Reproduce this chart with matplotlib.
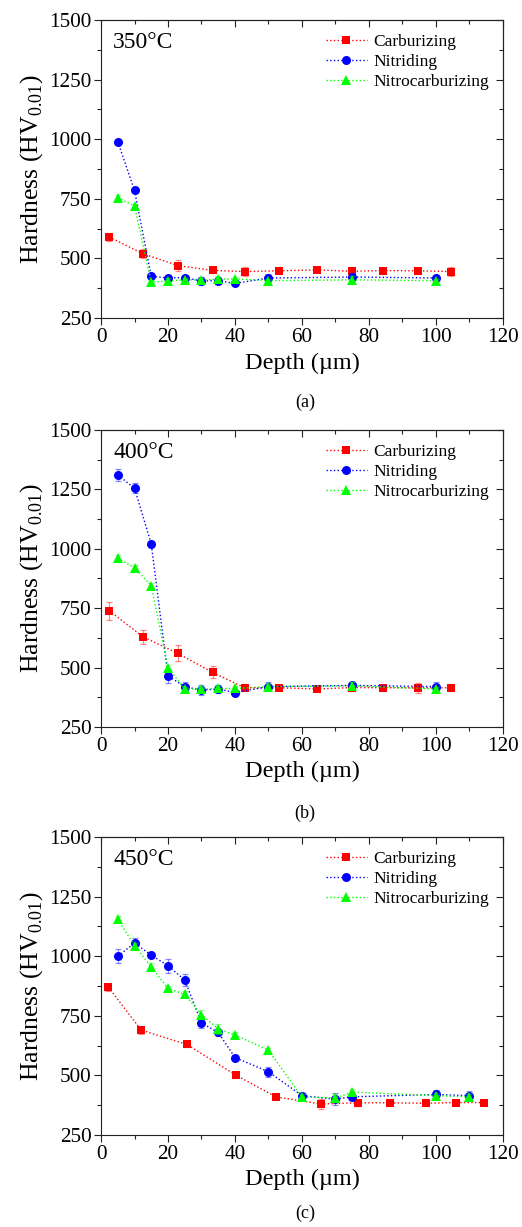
import numpy as np
import matplotlib
matplotlib.use('Agg')
import matplotlib.pyplot as plt
from matplotlib.ticker import MultipleLocator

# フォント設定
plt.rcParams['font.family'] = ['Liberation Serif', 'DejaVu Serif']
plt.rcParams['mathtext.fontset'] = 'custom'
plt.rcParams['mathtext.rm'] = 'Liberation Serif'

# 350°C のデータ
c350_x = [2.4, 12.5, 22.9, 33.3, 42.9, 53.2, 64.6, 74.9, 84.3, 94.7, 104.4]
c350_y = [590, 520, 470, 450, 445, 448, 452, 446, 449, 448, 445]
c350_e = [15, 18, 22, 12, 18, 8, 8, 8, 8, 8, 18]
n350_x = [5, 10, 15, 20, 25, 30, 35, 40, 50, 75, 100]
n350_y = [990, 785, 425, 418, 420, 405, 407, 395, 418, 422, 418]
n350_e = [8, 8, 8, 8, 10, 18, 15, 8, 15, 15, 12]
nc350_x = [5, 10, 15, 20, 25, 30, 35, 40, 50, 75, 100]
nc350_y = [755, 720, 400, 406, 410, 410, 413, 414, 407, 410, 407]
nc350_e = [12, 10, 10, 10, 8, 10, 12, 10, 8, 15, 8]

# 400°C のデータ
c400_x = [2.4, 12.5, 22.9, 33.3, 42.9, 53.2, 64.6, 74.9, 84.3, 94.7, 104.4]
c400_y = [740, 630, 560, 480, 415, 415, 410, 416, 415, 415, 415]
c400_e = [38, 30, 33, 25, 15, 10, 8, 15, 8, 20, 8]
n400_x = [5, 10, 15, 20, 25, 30, 35, 40, 50, 75, 100]
n400_y = [1310, 1255, 1020, 465, 420, 405, 410, 395, 420, 425, 420]
n400_e = [25, 20, 12, 30, 20, 20, 15, 8, 20, 15, 20]
nc400_x = [5, 10, 15, 20, 25, 30, 35, 40, 50, 75, 100]
nc400_y = [960, 920, 845, 500, 410, 410, 412, 412, 420, 423, 410]
nc400_e = [12, 12, 10, 10, 10, 10, 12, 10, 12, 15, 10]

# 450°C のデータ
c450_x = [2.2, 12.0, 25.6, 40.4, 52.2, 65.7, 76.7, 86.3, 96.9, 106.1, 114.3]
c450_y = [870, 690, 630, 500, 410, 380, 385, 385, 383, 386, 386]
c450_e = [15, 15, 10, 10, 10, 20, 12, 10, 8, 8, 8]
n450_x = [5, 10, 15, 20, 25, 30, 35, 40, 50, 60, 70, 75, 100, 110]
n450_y = [1000, 1055, 1005, 960, 900, 720, 680, 575, 515, 415, 400, 410, 420, 415]
n450_e = [30, 20, 10, 30, 25, 20, 15, 10, 20, 10, 25, 15, 20, 20]
nc450_x = [5, 10, 15, 20, 25, 30, 35, 40, 50, 60, 70, 75, 100, 110]
nc450_y = [1155, 1045, 955, 865, 840, 755, 695, 670, 605, 410, 405, 430, 415, 410]
nc450_e = [12, 12, 15, 12, 12, 20, 20, 10, 10, 10, 15, 12, 10, 10]

temps = ['350°C', '400°C', '450°C']
tags = ['(a)', '(b)', '(c)']
panels = [
    [(c350_x, c350_y, c350_e), (n350_x, n350_y, n350_e), (nc350_x, nc350_y, nc350_e)],
    [(c400_x, c400_y, c400_e), (n400_x, n400_y, n400_e), (nc400_x, nc400_y, nc400_e)],
    [(c450_x, c450_y, c450_e), (n450_x, n450_y, n450_e), (nc450_x, nc450_y, nc450_e)],
]
names = ['Carburizing', 'Nitriding', 'Nitrocarburizing']
colors = ['#ff0000', '#0000ff', '#00ff00']
markers = ['s', 'o', '^']
msizes = [5.8, 6.5, 7]

fig = plt.figure(figsize=(5.22, 12.27), dpi=100)

# 各パネルの位置 [left, bottom, width, height]
rects = [[0.1935, 0.7408, 0.770, 0.2429],
         [0.1935, 0.4075, 0.770, 0.2421],
         [0.1935, 0.0750, 0.770, 0.2428]]
tag_y = [0.665, 0.330, 0.004]
axcol = '#222222'

for k in range(3):
    ax = fig.add_axes(rects[k])
    for (x, y, e), nm, col, mk, ms in zip(panels[k], names, colors, markers, msizes):
        ax.errorbar(x, y, yerr=e, fmt='none', ecolor=col, alpha=0.45,
                    elinewidth=0.9, capsize=2.5, capthick=0.9)
        ax.plot(x, y, linestyle=':', color=col, lw=1.0, marker=mk,
                markersize=ms, markeredgewidth=0, label=nm)
    ax.set_xlim(0, 120)
    ax.set_ylim(250, 1500)
    ax.xaxis.set_major_locator(MultipleLocator(20))
    ax.xaxis.set_minor_locator(MultipleLocator(10))
    ax.yaxis.set_major_locator(MultipleLocator(250))
    ax.yaxis.set_minor_locator(MultipleLocator(125))
    ax.tick_params(which='both', direction='out', labelsize=15.2, width=0.8,
                   color=axcol, pad=2)
    ax.tick_params(which='major', length=5)
    ax.tick_params(which='minor', length=3)
    # 上と右は内向きの目盛
    ax2 = ax.secondary_xaxis('top')
    ax2.xaxis.set_major_locator(MultipleLocator(20))
    ax2.xaxis.set_minor_locator(MultipleLocator(10))
    ax2.tick_params(which='both', direction='in', labeltop=False, width=0.8, color=axcol)
    ax2.tick_params(which='major', length=5)
    ax2.tick_params(which='minor', length=3)
    ay2 = ax.secondary_yaxis('right')
    ay2.yaxis.set_major_locator(MultipleLocator(250))
    ay2.yaxis.set_minor_locator(MultipleLocator(125))
    ay2.tick_params(which='both', direction='in', labelright=False, width=0.8, color=axcol)
    ay2.tick_params(which='major', length=5)
    ay2.tick_params(which='minor', length=3)
    for sp in ax.spines.values():
        sp.set_linewidth(0.8)
        sp.set_color(axcol)
    for sax in (ax2, ay2):
        for sp in sax.spines.values():
            sp.set_linewidth(0.8)
            sp.set_color(axcol)
    ax.set_xlabel('Depth (\u00b5m)', fontsize=17.5, labelpad=4)
    ax.set_ylabel('Hardness (HV$_{\\mathregular{0.01}}$)', fontsize=18.5, labelpad=3)
    ax.text(0.03, 0.925, temps[k], transform=ax.transAxes, fontsize=17,
            va='center', ha='left')
    ax.legend(loc='upper right', frameon=False, fontsize=12.5, handlelength=2.4,
              handletextpad=0.35, labelspacing=0.22, borderaxespad=0.4)
    fig.text(0.584, tag_y[k], tags[k], ha='center', va='bottom', fontsize=13)

fig.savefig('out.png', dpi=100)
plt.close()
